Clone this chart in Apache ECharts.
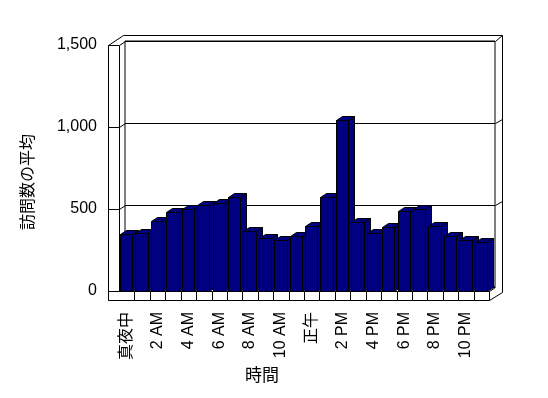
<!DOCTYPE html>
<html>
<head>
<meta charset="utf-8">
<script src="https://cdn.jsdelivr.net/npm/echarts@6/dist/echarts.min.js"></script>
<style>
  html, body { margin: 0; padding: 0; background: #fff; }
  #chart { width: 548px; height: 398px; }
</style>
</head>
<body>
<div id="chart"></div>
<script>
// 時間帯ごとの訪問数の平均
const hours = [
  '真夜中', '1 AM', '2 AM', '3 AM', '4 AM', '5 AM', '6 AM', '7 AM', '8 AM', '9 AM', '10 AM', '11 AM',
  '正午', '1 PM', '2 PM', '3 PM', '4 PM', '5 PM', '6 PM', '7 PM', '8 PM', '9 PM', '10 PM', '11 PM'
];
const visits = [
  347, 354, 427, 482, 498, 522, 538, 571, 366, 321, 311, 333,
  394, 573, 1043, 419, 354, 388, 488, 498, 394, 333, 311, 297
];
const yTicks = [0, 500, 1000, 1500];

const FONT = '"Liberation Sans", "Noto Sans CJK JP", sans-serif';
const NAVY = '#000080';
// 前面のプロット領域と奥行き (px)
const FRONT = { left: 119, top: 45, width: 370, height: 246 };
const DX = 6, DY = -4;
const WALL_X = 108;   // 左の壁の前面
const FLOOR_H = 9;    // 床の厚み
const OUTER = { top: 35, right: 502 };

const chart = echarts.init(document.getElementById('chart'), null, { renderer: 'canvas' });

const px = v => Math.round(v) + 0.5;

function renderBar(params, api) {
  const base = api.coord([api.value(0), 0]);
  const top = api.coord([api.value(0), api.value(1)]);
  const band = api.size([1, 0])[0];
  const x0 = px(base[0] - band / 2 + 1);
  const x1 = px(base[0] - band / 2 + 1 + band * 0.8);
  const y0 = px(base[1]);
  const y1 = px(top[1]);
  const st = { fill: NAVY, stroke: '#000', lineWidth: 1 };
  return {
    type: 'group',
    children: [
      { type: 'polygon', shape: { points: [[x1, y1], [x1 + DX, y1 + DY], [x1 + DX, y0 + DY], [x1, y0]] }, style: st },
      { type: 'polygon', shape: { points: [[x0, y1], [x1, y1], [x1 + DX, y1 + DY], [x0 + DX, y1 + DY]] }, style: st },
      { type: 'rect', shape: { x: x0, y: y1, width: x1 - x0, height: y0 - y1 }, style: st }
    ]
  };
}

// 床の前面 (カテゴリごとの枠)
function renderFloor(params, api) {
  const i = api.value(0);
  const base = api.coord([i, 0]);
  const band = api.size([1, 0])[0];
  const xl = i === 0 ? px(WALL_X) : px(base[0] - band / 2);
  const xr = px(base[0] + band / 2);
  const y0 = px(base[1]);
  return {
    type: 'rect',
    shape: { x: xl, y: y0, width: xr - xl, height: FLOOR_H },
    style: { stroke: '#000', lineWidth: 1, fill: '#fff' }
  };
}

const yMax = yTicks[yTicks.length - 1];

const option = {
  backgroundColor: '#fff',
  animation: false,
  textStyle: { fontFamily: FONT },
  grid: [
    { left: FRONT.left, top: FRONT.top, width: FRONT.width, height: FRONT.height, show: false },
    // 奥の壁
    {
      left: FRONT.left + DX, top: FRONT.top + DY, width: FRONT.width, height: FRONT.height,
      show: true, borderColor: '#000', borderWidth: 1, backgroundColor: 'transparent'
    }
  ],
  xAxis: [
    {
      type: 'category', gridIndex: 0, data: hours, boundaryGap: true,
      axisLine: { show: false },
      axisTick: { show: false },
      axisLabel: {
        interval: 1, rotate: 90, margin: 21,
        color: '#000', fontSize: 16, fontFamily: FONT
      }
    },
    { type: 'category', gridIndex: 1, data: hours, show: false }
  ],
  yAxis: [
    {
      type: 'value', gridIndex: 0, min: 0, max: yMax, interval: 500,
      axisLine: { show: false }, axisTick: { show: false }, splitLine: { show: false },
      axisLabel: {
        margin: 22, color: '#000', fontSize: 16, fontFamily: FONT,
        formatter: v => v.toLocaleString('en-US')
      }
    },
    {
      type: 'value', gridIndex: 1, min: 0, max: yMax, interval: 500,
      axisLine: { show: false }, axisTick: { show: false }, axisLabel: { show: false },
      splitLine: { show: true, lineStyle: { color: '#000', width: 1 } }
    }
  ],
  series: [
    {
      type: 'custom', name: 'floor',
      xAxisIndex: 0, yAxisIndex: 0,
      renderItem: renderFloor,
      encode: { x: 0, y: 1 },
      data: hours.map((h, i) => [i, 0]),
      clip: false, silent: true,
      z: 6
    },
    {
      type: 'custom', name: '訪問数の平均',
      xAxisIndex: 0, yAxisIndex: 0,
      renderItem: renderBar,
      encode: { x: 0, y: 1 },
      data: visits.map((v, i) => [i, v]),
      clip: false,
      z: 5
    }
  ]
};
chart.setOption(option);

// 壁の枠線
const left = FRONT.left, right = FRONT.left + FRONT.width;
const bottom = FRONT.top + FRONT.height;
const line = (pts) => ({
  type: 'polyline', silent: true, z: 1,
  shape: { points: pts.map(p => [px(p[0]), px(p[1])]) },
  style: { stroke: '#000', lineWidth: 1, fill: null }
});
const graphics = [
  // 外枠
  line([[WALL_X, bottom + FLOOR_H], [WALL_X, FRONT.top], [WALL_X + 15, OUTER.top], [OUTER.right, OUTER.top],
        [OUTER.right, bottom + 1], [right, bottom + FLOOR_H]]),
  line([[left, FRONT.top], [left, bottom]]),
  line([[WALL_X, FRONT.top], [left, FRONT.top], [left + DX, FRONT.top + DY]]),
  line([[right + DX, FRONT.top + DY], [OUTER.right, OUTER.top]]),
  line([[right, bottom], [right + DX, bottom + DY]])
];
yTicks.slice(1, -1).forEach(v => {
  const yf = chart.convertToPixel({ yAxisIndex: 0 }, v);
  const yb = chart.convertToPixel({ yAxisIndex: 1 }, v);
  graphics.push(line([[WALL_X, yf], [left, yf], [left + DX, yb]]));
  graphics.push(line([[right + DX, yb], [OUTER.right, yb - 4]]));
});
// 軸タイトル
graphics.push({
  type: 'text', x: 29, y: 182, rotation: Math.PI / 2, z: 1,
  style: { text: '訪問数の平均', font: '16px ' + FONT, fill: '#000', align: 'center', verticalAlign: 'middle' }
});
graphics.push({
  type: 'text', x: 262, y: 376, z: 1,
  style: { text: '時間', font: '17px ' + FONT, fill: '#000', align: 'center', verticalAlign: 'middle' }
});
chart.setOption({ graphic: graphics });
</script>
</body>
</html>
